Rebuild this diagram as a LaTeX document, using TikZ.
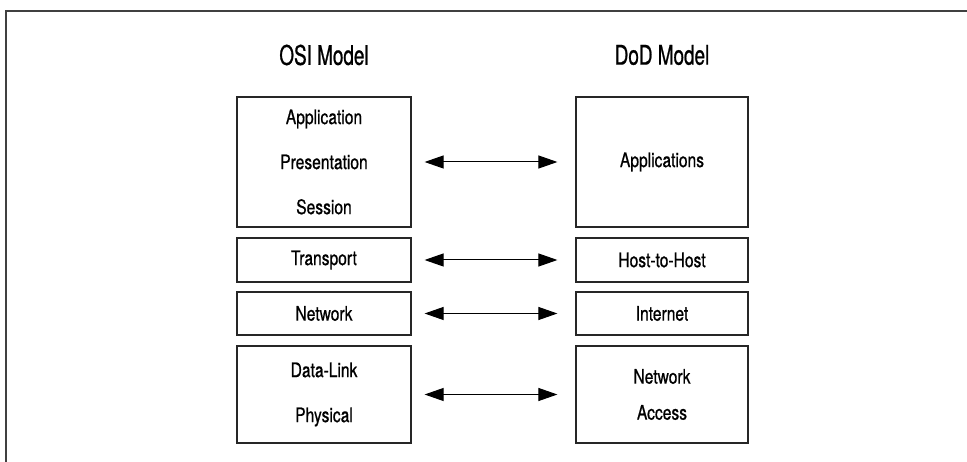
\documentclass[tikz,border=0pt]{standalone}
\usepackage{fontspec}
\setmainfont{TeX Gyre Heros}[FakeStretch=0.78,FakeBold=0.7]
\newfontfamily\headfont{TeX Gyre Heros}[FakeStretch=0.7,FakeBold=0.8]
\usetikzlibrary{arrows.meta}
\begin{document}
\begin{tikzpicture}[x=1pt,y=-1pt,
  layerbox/.style={draw=black!85,line width=1.2pt,rectangle,minimum width=174pt,
    inner sep=0pt,align=center,font=\fontsize{20}{45}\selectfont},
  heading/.style={font=\headfont\fontsize{27}{30}\selectfont},
  maparrow/.style={line width=1pt,{Triangle[length=19pt,width=13pt]}-{Triangle[length=19pt,width=13pt]}}]
\useasboundingbox (0,0) rectangle (967,462);
% outer frame (top and left edges)
\draw[line width=1.4pt,black!75] (967,11) -- (6,11) -- (6,462);
% column headings
\node[heading] (osi) at (324,55) {OSI Model};
\node[heading] (dod) at (662,55) {DoD Model};
% OSI layers
\node[layerbox,minimum height=130pt] (o1) at (324,162) {Application\\Presentation\\Session};
\node[layerbox,minimum height=44pt] (o2) at (324,260) {Transport};
\node[layerbox,minimum height=43pt] (o3) at (324,313.5) {Network};
\node[layerbox,minimum height=97pt] (o4) at (324,394.5) {Data-Link\\Physical};
% DoD layers
\node[layerbox,minimum width=172pt,minimum height=130pt] (d1) at (662,162) {Applications};
\node[layerbox,minimum width=172pt,minimum height=44pt] (d2) at (662,260) {Host-to-Host};
\node[layerbox,minimum width=172pt,minimum height=43pt] (d3) at (662,313.5) {Internet};
\node[layerbox,minimum width=172pt,minimum height=97pt,font=\fontsize{20}{36}\selectfont] (d4) at (662,394.5) {Network\\Access};
% correspondences
\foreach \i in {1,2,3,4}
  \draw[maparrow] ([xshift=13pt]o\i.east) -- ([xshift=-18pt]d\i.west);
\end{tikzpicture}
\end{document}
